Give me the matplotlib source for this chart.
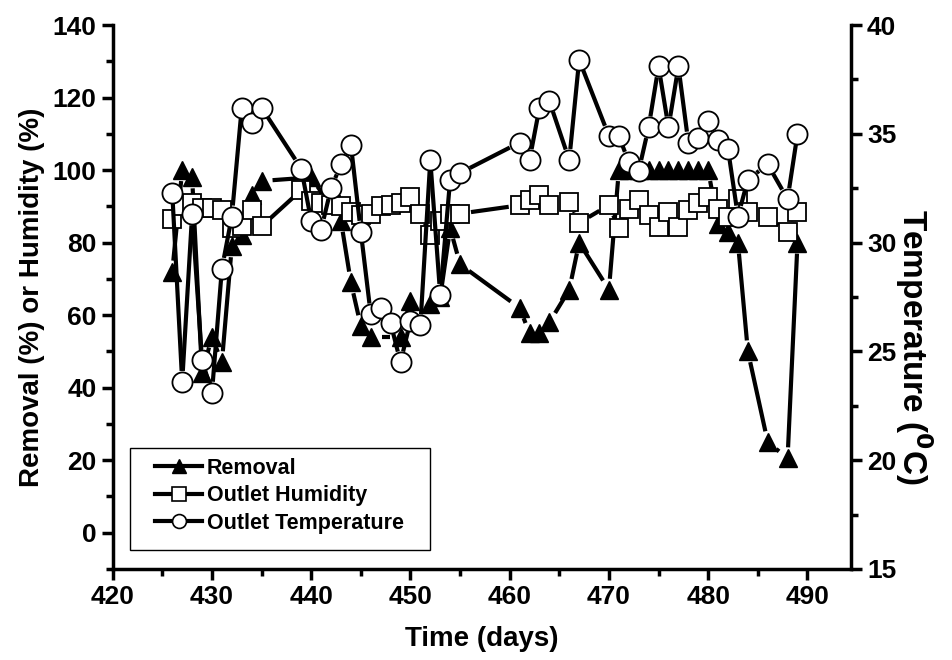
import numpy as np
import matplotlib
matplotlib.use("Agg")
import matplotlib.pyplot as plt
from matplotlib.collections import LineCollection
from matplotlib.lines import Line2D
from matplotlib.patches import Rectangle
from matplotlib.ticker import MultipleLocator

plt.rcParams['font.family'] = ['Liberation Sans', 'DejaVu Sans']
plt.rcParams['font.weight'] = 'bold'

# Removal (%)
days_rem = [426, 427, 428, 429, 430, 431, 432, 433, 434, 435, 440, 443, 444, 445, 446,
            449, 450, 452, 453, 454, 455, 461, 462, 463, 464, 466, 467, 470, 471, 472,
            473, 474, 475, 476, 477, 478, 479, 480, 481, 482, 483, 484, 486, 488, 489]
removal = [72, 100, 98, 44, 54, 47, 79, 82, 93, 97, 98, 86, 69, 57, 54,
           54, 64, 63, 65, 84, 74, 62, 55, 55, 58, 67, 80, 67, 100, 100,
           100, 100, 100, 100, 100, 100, 100, 100, 85, 83, 80, 50, 25, 20.5, 80]

# Outlet humidity (%)
days_hum = [426, 427, 428, 429, 430, 431, 432, 433, 434, 435, 439, 440, 441, 442, 443,
            444, 445, 446, 447, 448, 449, 450, 451, 452, 453, 454, 455, 461, 462, 463,
            464, 466, 467, 470, 471, 472, 473, 474, 475, 476, 477, 478, 479, 480, 481,
            482, 483, 484, 486, 488, 489]
humidity = [86.5, 90, 91, 89.5, 89.5, 89, 84, 84.5, 89, 84.5, 94.5, 91.5, 91, 90.5, 90,
            88.5, 87.5, 88, 90, 90.5, 91, 92.5, 88, 82, 86, 88, 88, 90.3, 91.7, 93,
            90.3, 91.3, 85.5, 90.3, 84, 89.4, 91.7, 87.6, 84.4, 88.5, 84.4, 89, 90.8, 92.6, 89.4,
            87, 92, 88.5, 87, 83, 88.5]

# Outlet temperature (C)
days_temp = [426, 427, 428, 429, 430, 431, 432, 433, 434, 435, 439, 440, 441, 442, 443,
             444, 445, 446, 447, 448, 449, 450, 451, 452, 453, 454, 455, 461, 462, 463,
             464, 466, 467, 470, 471, 472, 473, 474, 475, 476, 477, 478, 479, 480, 481,
             482, 483, 484, 486, 488, 489]
temperature = [32.3, 23.6, 31.3, 24.6, 23.1, 28.8, 31.2, 36.2, 35.5, 36.2, 33.4, 31.0, 30.6, 32.5, 33.6,
               34.5, 30.5, 26.7, 27.0, 26.3, 24.5, 26.4, 26.2, 33.8, 27.6, 32.9, 33.2, 34.6, 33.8, 36.2,
               36.5, 33.8, 38.4, 34.9, 34.9, 33.7, 33.3, 35.3, 38.1, 35.3, 38.1, 34.6, 34.8, 35.6, 34.7,
               34.3, 31.2, 32.9, 33.6, 32.0, 35.0]


def gapped_line(ax, x, y, gap=11, lw=3):
    # line segments stop short of the symbols, like Origin does
    pts = ax.transData.transform(np.column_stack([x, y]))
    inv = ax.transData.inverted()
    segs = []
    for p, q in zip(pts[:-1], pts[1:]):
        d = q - p
        L = np.hypot(d[0], d[1])
        if L <= 2 * gap:
            continue
        u = d / L
        segs.append(inv.transform(np.array([p + u * gap, q - u * gap])))
    ax.add_collection(LineCollection(segs, colors='black', linewidths=lw, capstyle='butt', zorder=2))


fig = plt.figure(figsize=(9.52, 6.6), dpi=100)
ax = fig.add_axes([0.1184, 0.138, 0.7756, 0.824])
ax2 = ax.twinx()

ax.set_xlim(420, 494.4)
ax.set_ylim(-10, 140)
ax2.set_ylim(15, 40)

gapped_line(ax, days_rem, removal)
gapped_line(ax, days_hum, humidity)
ax.plot(days_rem, removal, linestyle='none', marker='^', markersize=13,
        color='black', zorder=3)
ax.plot(days_hum, humidity, linestyle='none', marker='s', markersize=13.5,
        markerfacecolor='white', markeredgecolor='black', markeredgewidth=1.3, zorder=3)

gapped_line(ax2, days_temp, temperature)
ax2.plot(days_temp, temperature, linestyle='none', marker='o', markersize=14.5,
         markerfacecolor='white', markeredgecolor='black', markeredgewidth=1.3, zorder=3)

ax.xaxis.set_major_locator(MultipleLocator(10))
ax.xaxis.set_minor_locator(MultipleLocator(5))
ax.yaxis.set_major_locator(MultipleLocator(20))
ax.yaxis.set_minor_locator(MultipleLocator(10))
ax2.yaxis.set_major_locator(MultipleLocator(5))
ax2.yaxis.set_minor_locator(MultipleLocator(2.5))
ax.set_xticks(range(420, 491, 10))

for a in (ax, ax2):
    a.spines['top'].set_visible(False)
    for s in a.spines.values():
        s.set_linewidth(2.5)
    a.tick_params(which='major', direction='out', length=8, width=2.5, labelsize=19)
    a.tick_params(which='minor', direction='out', length=5, width=2.5)
ax.spines['right'].set_visible(False)
ax2.spines['left'].set_visible(False)
ax2.spines['bottom'].set_visible(False)

ax.set_xlabel('Time (days)', fontsize=20, fontweight='bold', labelpad=12)
ax.set_ylabel('Removal (%) or Humidity (%)', fontsize=20, fontweight='bold', labelpad=6)
ax2.set_ylabel('Temperature ($\\mathbf{^0}$C)', fontsize=24, fontweight='bold', rotation=270)
ax2.yaxis.set_label_coords(1.114, 0.408)

# legend box is drawn on its own, a bit larger than the entries
ax2.add_patch(Rectangle((0.0234, 0.035), 0.4066, 0.1875, transform=ax2.transAxes,
                        facecolor='white', edgecolor='black', linewidth=1.0, zorder=4))
handles = [
    Line2D([], [], color='black', lw=3, marker='^', markersize=10),
    Line2D([], [], color='black', lw=3, marker='s', markersize=10,
           markerfacecolor='white', markeredgewidth=1.2),
    Line2D([], [], color='black', lw=3, marker='o', markersize=10,
           markerfacecolor='white', markeredgewidth=1.2),
]
leg = ax2.legend(handles, ['Removal', 'Outlet Humidity', 'Outlet Temperature'],
                 loc='upper left', bbox_to_anchor=(0.0573, 0.2046), frameon=False,
                 borderaxespad=0, borderpad=0, prop={'size': 15.5, 'weight': 'bold'},
                 handlelength=2.2, handletextpad=0.2, labelspacing=0.3)
leg.set_zorder(5)

fig.savefig('out.png', dpi=100)
